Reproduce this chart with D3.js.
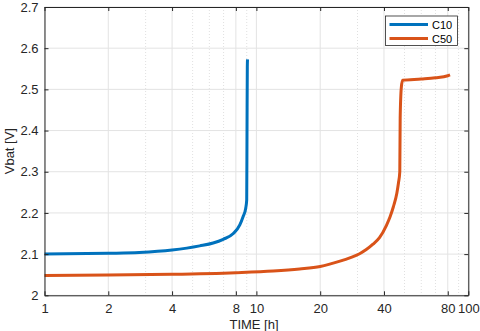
<!DOCTYPE html>
<html><head><meta charset="utf-8">
<script src="https://cdn.jsdelivr.net/npm/d3@7"></script>
<style>body{margin:0;background:#fff}svg{display:block}text{font-family:"Liberation Sans",Arial,sans-serif}</style>
</head><body>
<svg id="c" width="480" height="331"></svg>
<script>
const c10Time = [1, 2, 2.8, 4, 5.4, 6.25, 6.97, 7.78, 8.35, 8.65, 8.9, 9.0, 9.03, 9.06, 9.08];
const c10Volt = [2.100, 2.102, 2.104, 2.110, 2.120, 2.127, 2.136, 2.150, 2.171, 2.191, 2.211, 2.231, 2.40, 2.555, 2.573];
const c50Time = [1, 2, 4, 8, 12, 16, 20, 24.8, 27.6, 30.7, 33, 35.5, 38.1, 41.1, 42.7, 44.3, 46, 46.8, 47.5, 47.7, 48.3, 49, 60, 70, 80, 82];
const c50Volt = [2.048, 2.049, 2.051, 2.055, 2.059, 2.064, 2.070, 2.083, 2.091, 2.101, 2.111, 2.124, 2.140, 2.170, 2.190, 2.215, 2.248, 2.272, 2.30, 2.43, 2.505, 2.522, 2.525, 2.528, 2.533, 2.535];
const xTickVals = [1, 2, 4, 8, 10, 20, 40, 80, 100];
const xMinor = [3, 5, 6, 7, 9, 30, 50, 60, 70, 90];
const yTickVals = [2, 2.1, 2.2, 2.3, 2.4, 2.5, 2.6, 2.7];
const seriesNames = ["C10", "C50"];
const colors = ["#0072BD", "#D95319"];

const svg = d3.select("#c");
const L = 44.5, R = 468.3, T = 7, B = 295.3;
const x = d3.scaleLog().domain([1, 100]).range([L, R]);
const y = d3.scaleLinear().domain([2, 2.7]).range([B, T]);

// grid
const g = svg.append("g");
g.selectAll(".gx").data(xMinor).join("line")
  .attr("x1", d => x(d)).attr("x2", d => x(d)).attr("y1", T).attr("y2", B)
  .attr("stroke", "#d8d8d8").attr("stroke-width", 0.8).attr("stroke-dasharray", "1,2");
g.selectAll(".gX").data(xTickVals).join("line")
  .attr("x1", d => x(d)).attr("x2", d => x(d)).attr("y1", T).attr("y2", B)
  .attr("stroke", "#e3e3e3").attr("stroke-width", 1);
g.selectAll(".gy").data(yTickVals).join("line")
  .attr("x1", L).attr("x2", R).attr("y1", d => y(d)).attr("y2", d => y(d))
  .attr("stroke", "#e3e3e3").attr("stroke-width", 1);

// lines
const line = d3.line().x(d => x(d[0])).y(d => y(d[1])).curve(d3.curveMonotoneX);
const data = [d3.zip(c10Time, c10Volt), d3.zip(c50Time, c50Volt)];
svg.selectAll(".ln").data(data).join("path")
  .attr("d", line).attr("fill", "none")
  .attr("stroke", (d, i) => colors[i]).attr("stroke-width", 3)
  .attr("stroke-linejoin", "round");

// axes
const ax = svg.append("g").attr("transform", `translate(0,${B})`)
  .call(d3.axisBottom(x).tickValues(xTickVals).tickFormat(d3.format("d")).tickSizeInner(-4).tickSizeOuter(0).tickPadding(8));
const ay = svg.append("g").attr("transform", `translate(${L},0)`)
  .call(d3.axisLeft(y).tickValues(yTickVals).tickFormat(d => d === 2 ? "2" : d3.format(".1f")(d)).tickSizeInner(-4).tickSizeOuter(0).tickPadding(6));
const at = svg.append("g").attr("transform", `translate(0,${T})`)
  .call(d3.axisTop(x).tickValues(xTickVals).tickFormat("").tickSizeInner(-4).tickSizeOuter(0));
const ar = svg.append("g").attr("transform", `translate(${R},0)`)
  .call(d3.axisRight(y).tickValues(yTickVals).tickFormat("").tickSizeInner(-4).tickSizeOuter(0));
[ax, ay, at, ar].forEach(a => {
  a.selectAll("path").attr("stroke", "#262626").attr("stroke-width", 1);
  a.selectAll("line").attr("stroke", "#262626");
  a.selectAll("text").attr("fill", "#262626").attr("font-size", 13).attr("font-family", "Liberation Sans, Arial, sans-serif");
});

// axis labels
svg.append("text").attr("x", 254).attr("y", 329).attr("text-anchor", "middle")
  .attr("font-size", 13).attr("fill", "#262626").text("TIME [h]");
svg.append("text").attr("transform", `translate(14,${(T + B) / 2}) rotate(-90)`)
  .attr("text-anchor", "middle").attr("font-size", 13).attr("fill", "#262626").text("Vbat [V]");

// legend
const lg = svg.append("g");
lg.append("rect").attr("x", 385.5).attr("y", 16).attr("width", 72).attr("height", 29.5)
  .attr("fill", "#fff").attr("stroke", "#262626").attr("stroke-width", 0.8);
seriesNames.forEach((n, i) => {
  const yy = 24.5 + i * 14;
  lg.append("line").attr("x1", 389.5).attr("x2", 428).attr("y1", yy).attr("y2", yy)
    .attr("stroke", colors[i]).attr("stroke-width", 3);
  lg.append("text").attr("x", 432).attr("y", yy + 4).attr("font-size", 11).attr("fill", "#000").text(n);
});
</script>
</body></html>
